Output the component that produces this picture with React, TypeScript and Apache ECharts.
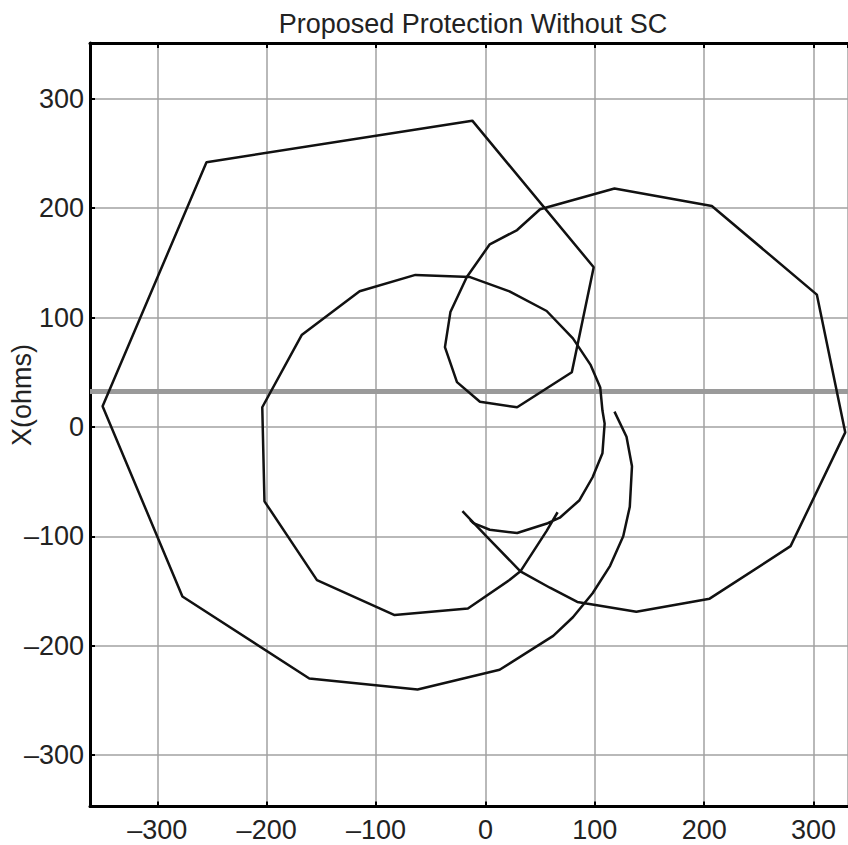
import React, { useEffect, useRef } from "react";
import * as echarts from "echarts";

// Impedance trajectory (R, X in ohms): outer arc, big swing, inner loop, right lobe and spiral tail
const swingTrajectory: number[][] = [
  [118, 14], [129, -9], [134, -36], [132, -73], [126, -100], [114, -127], [98, -152],
  [80, -174], [62, -191], [13, -222], [-62, -240], [-161, -230], [-277, -155],
  [-350, 19], [-255, 242], [-12, 280], [99, 146], [79, 50], [29, 18], [-5, 23],
  [-26, 41], [-37, 73], [-32, 105], [-17, 137], [4, 167], [29, 180], [50, 199],
  [118, 218], [207, 202], [303, 121], [329, -5], [279, -109], [205, -157],
  [138, -169], [84, -160], [59, -147], [32, -132], [1, -100], [-21, -77],
];

// Second trajectory: circular locus around the origin
const circleTrajectory: number[][] = [
  [66, -78], [56, -95], [32, -132], [22, -140], [-16, -166], [-83, -172],
  [-154, -140], [-202, -68], [-204, 18], [-168, 84], [-115, 124], [-64, 139],
  [-14, 137], [22, 124], [56, 106], [80, 81], [96, 57], [105, 36], [107, 15],
  [109, 3], [107, -24], [98, -46], [86, -67], [68, -83], [57, -88], [29, -97],
  [4, -94], [-11, -88], [-14, -85],
];

// Reactance setting of the protection characteristic
const reactanceSetting = 32.5;

const xRange = [-361.5, 331.5];
const yRange = [-347, 351];

const titleText = "Proposed Protection Without SC";
const yAxisTitle = "X(ohms)";

const FONT = "'Liberation Sans Narrow', 'Arial Narrow', 'Liberation Sans', Arial, sans-serif";

export default function App() {
  const ref = useRef<HTMLDivElement>(null);

  useEffect(() => {
    if (!ref.current) return;
    const chart = echarts.init(ref.current, undefined, { renderer: "svg" });

    const gridLine = { show: true, lineStyle: { color: "#a2a2a2", width: 1.5 } };
    const border = { show: true, onZero: false, lineStyle: { color: "#000", width: 3 } };
    const ticks = { show: true, inside: true, length: 5, lineStyle: { color: "#000", width: 2 } };
    const minus = (v: number) => String(v).replace("-", "\u2013");

    chart.setOption({
      animation: false,
      backgroundColor: "#fff",
      title: {
        text: titleText,
        left: 468,
        top: 5,
        textAlign: "center",
        textStyle: { fontFamily: FONT, fontSize: 27, fontWeight: "normal", color: "#222" },
      },
      graphic: [
        {
          type: "text",
          x: 22,
          y: 395,
          rotation: Math.PI / 2,
          style: {
            text: yAxisTitle,
            font: `27px ${FONT}`,
            fill: "#222",
            textAlign: "center",
            textVerticalAlign: "middle",
          },
        },
      ],
      grid: { left: 90, right: 0, top: 43, bottom: 38.5, containLabel: false },
      xAxis: [
        {
          type: "value",
          min: xRange[0],
          max: xRange[1],
          minInterval: 100,
          maxInterval: 100,
          position: "bottom",
          axisLine: border,
          axisTick: ticks,
          splitLine: gridLine,
          axisLabel: {
            showMinLabel: false,
            showMaxLabel: false,
            margin: 10,
            fontFamily: FONT,
            fontSize: 27,
            color: "#222",
            formatter: minus,
          },
        },
        {
          type: "value",
          min: xRange[0],
          max: xRange[1],
          minInterval: 100,
          maxInterval: 100,
          position: "top",
          axisLine: border,
          axisTick: ticks,
          splitLine: { show: false },
          axisLabel: { show: false },
        },
      ],
      yAxis: [
        {
          type: "value",
          min: yRange[0],
          max: yRange[1],
          minInterval: 100,
          maxInterval: 100,
          axisLine: border,
          axisTick: ticks,
          splitLine: gridLine,
          axisLabel: {
            showMinLabel: false,
            showMaxLabel: false,
            margin: 6,
            fontFamily: FONT,
            fontSize: 27,
            color: "#222",
            formatter: minus,
          },
        },
      ],
      series: [
        {
          type: "line",
          data: [
            [xRange[0], reactanceSetting],
            [xRange[1], reactanceSetting],
          ],
          showSymbol: false,
          lineStyle: { color: "#9a9a9a", width: 5 },
          z: 1,
        },
        {
          type: "line",
          data: swingTrajectory,
          showSymbol: false,
          lineStyle: { color: "#111", width: 2.5 },
          z: 2,
        },
        {
          type: "line",
          data: circleTrajectory,
          showSymbol: false,
          lineStyle: { color: "#111", width: 2.5 },
          z: 2,
        },
      ],
    });

    return () => chart.dispose();
  }, []);

  return (
    <div
      ref={ref}
      style={{ position: "absolute", left: 0, top: 0, width: 848, height: 845 }}
    />
  );
}
